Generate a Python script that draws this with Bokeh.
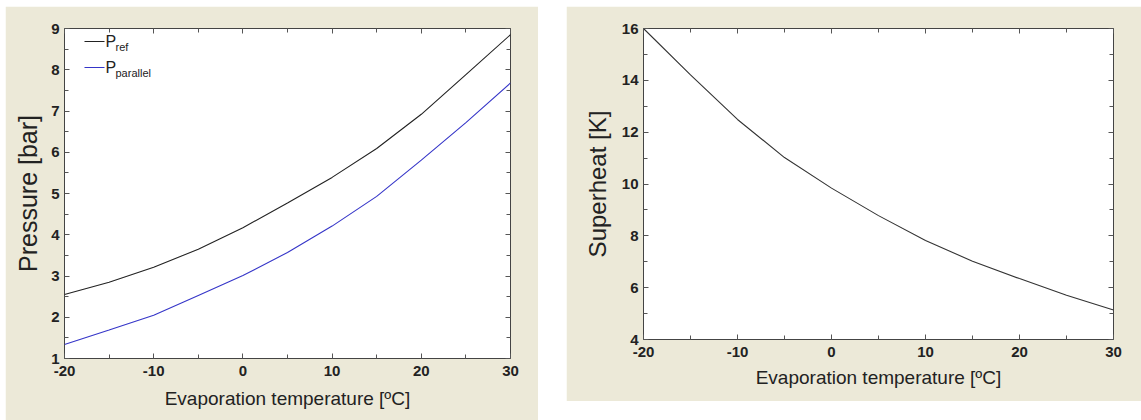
from bokeh.plotting import figure
from bokeh.layouts import row
from bokeh.models import LinearAxis, Range1d, Label, PolyAnnotation, FixedTicker
from bokeh.embed import file_html
from bokeh.resources import INLINE

# ---- data ----
evap_temp = [-20, -15, -10, -5, 0, 5, 10, 15, 20, 25, 30]
p_ref = [2.55, 2.85, 3.21, 3.65, 4.17, 4.77, 5.39, 6.09, 6.92, 7.88, 8.85]
p_parallel = [1.34, 1.69, 2.05, 2.53, 3.01, 3.57, 4.21, 4.93, 5.81, 6.72, 7.68]
superheat = [16.0, 14.21, 12.49, 11.02, 9.84, 8.78, 7.82, 7.02, 6.35, 5.71, 5.14]

x_ticks = [-20, -10, 0, 10, 20, 30]
x_tick_labels = ["-20", "-10", "0", "10", "20", "30"]
x_minor_ticks = [-15, -5, 5, 15, 25]
pressure_ticks = [1, 2, 3, 4, 5, 6, 7, 8, 9]
pressure_minor_ticks = [1.5, 2.5, 3.5, 4.5, 5.5, 6.5, 7.5, 8.5]
superheat_ticks = [4, 6, 8, 10, 12, 14, 16]
superheat_minor_ticks = [5, 7, 9, 11, 13, 15]

BEIGE = "#ECE9D8"
FONT = "Liberation Sans"
TICK_COLOR = "#555555"
REF_COLOR = "#222222"
PAR_COLOR = "#3535C8"


def style_axis(ax, ticks, minor, show_labels=True, label_standoff=8,
               label_size="19px", tick_standoff=6):
    ax.ticker = FixedTicker(ticks=ticks, minor_ticks=minor)
    ax.axis_line_color = None
    ax.major_tick_in = 5
    ax.major_tick_out = 0
    ax.minor_tick_in = 4
    ax.minor_tick_out = 0
    ax.major_tick_line_color = TICK_COLOR
    ax.minor_tick_line_color = TICK_COLOR
    ax.major_label_text_font = FONT
    ax.major_label_text_font_style = "bold"
    ax.major_label_text_font_size = "15px"
    ax.axis_label_text_font = FONT
    ax.axis_label_text_font_style = "normal"
    ax.axis_label_text_color = "#222222"
    ax.axis_label_text_font_size = label_size
    ax.axis_label_standoff = label_standoff
    if show_labels:
        ax.major_label_text_color = "#222222"
        ax.major_label_standoff = tick_standoff
    else:
        ax.major_label_text_color = None
        ax.major_label_text_alpha = 0
        ax.major_label_standoff = 0


def make_fig(width, height, borders, y_range, margin):
    p = figure(width=width, height=height, output_backend="svg",
               toolbar_location=None, x_range=Range1d(-20, 30), y_range=y_range,
               min_border_left=borders[0], min_border_right=borders[1],
               min_border_top=borders[2], min_border_bottom=borders[3])
    p.margin = margin
    p.border_fill_color = BEIGE
    p.background_fill_color = "white"
    p.outline_line_color = "#444444"
    p.outline_line_width = 1
    p.grid.visible = False
    return p


x_overrides = {t: s for t, s in zip(x_ticks, x_tick_labels)}

# ---- left: pressure ----
p1 = make_fig(533, 414, (59, 28, 18, 62), Range1d(1, 9), (6, 0, 0, 5))
p1.line(evap_temp, p_ref, line_color=REF_COLOR, line_width=1.1)
p1.line(evap_temp, p_parallel, line_color=PAR_COLOR, line_width=1.1)
style_axis(p1.xaxis[0], x_ticks, x_minor_ticks, label_standoff=9, tick_standoff=7)
p1.xaxis[0].major_label_overrides = x_overrides
p1.xaxis[0].axis_label = "Evaporation temperature [ºC]"
style_axis(p1.yaxis[0], pressure_ticks, pressure_minor_ticks, label_standoff=6,
           label_size="25px", tick_standoff=5)
p1.yaxis[0].axis_label = "Pressure [bar]"
top1 = LinearAxis()
style_axis(top1, x_ticks, x_minor_ticks, show_labels=False)
p1.add_layout(top1, "above")
right1 = LinearAxis()
style_axis(right1, pressure_ticks, pressure_minor_ticks, show_labels=False)
p1.add_layout(right1, "right")

# legend drawn manually (subscripts)
legend_entries = [("ref", REF_COLOR, 317), ("parallel", PAR_COLOR, 291)]
for sub, col, ly in legend_entries:
    p1.add_layout(PolyAnnotation(xs=[20, 40], ys=[ly, ly], xs_units="screen", ys_units="screen",
                                 line_color=col, line_alpha=1.0, line_width=1.1,
                                 fill_alpha=0))
    p1.add_layout(Label(x=41, y=ly, x_units="screen", y_units="screen", text="P",
                        text_font=FONT, text_font_size="16px", text_color="#222222",
                        text_baseline="middle"))
    p1.add_layout(Label(x=51, y=ly - 5, x_units="screen", y_units="screen", text=sub,
                        text_font=FONT, text_font_size="11px", text_color="#222222",
                        text_baseline="middle"))

# ---- right: superheat ----
p2 = make_fig(575, 395, (77, 28, 22, 60), Range1d(4, 16), (6, 0, 0, 28))
p2.line(evap_temp, superheat, line_color="#333333", line_width=1.1)
style_axis(p2.xaxis[0], x_ticks, x_minor_ticks, label_standoff=7, tick_standoff=7)
p2.xaxis[0].major_label_overrides = x_overrides
p2.xaxis[0].axis_label = "Evaporation temperature [ºC]"
style_axis(p2.yaxis[0], superheat_ticks, superheat_minor_ticks, label_standoff=8,
           label_size="24px", tick_standoff=5)
p2.yaxis[0].axis_label = "Superheat [K]"
top2 = LinearAxis()
style_axis(top2, x_ticks, x_minor_ticks, show_labels=False)
p2.add_layout(top2, "above")
right2 = LinearAxis()
style_axis(right2, superheat_ticks, superheat_minor_ticks, show_labels=False)
p2.add_layout(right2, "right")

layout = row(p1, p2)
open("out.html", "w").write(file_html(layout, INLINE))
